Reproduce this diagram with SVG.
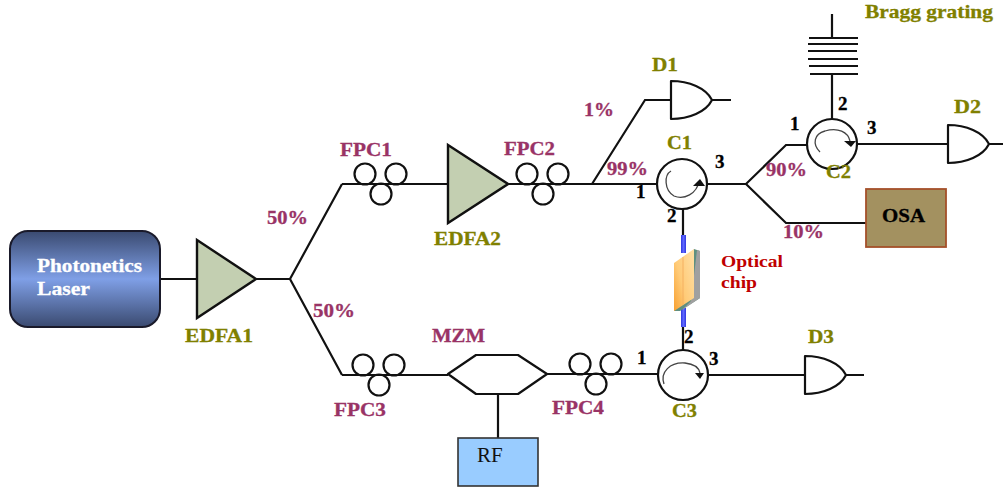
<svg xmlns="http://www.w3.org/2000/svg" width="1003" height="487" viewBox="0 0 1003 487">
<style>
text{font-family:"Liberation Serif","Times New Roman",serif;font-weight:bold;font-size:19px;stroke-width:.3px}
.p{fill:#993366;stroke:#993366}.o{fill:#808000;stroke:#808000}.k{fill:#000;stroke:#000}.w{fill:#fff;stroke:#fff}.r{fill:#C00000;font-size:16px}
.l{fill:none;stroke:#111;stroke-width:2.2}
.s{fill:#fff;stroke:#111;stroke-width:2.2;stroke-linejoin:round}
.c{fill:none;stroke:#111;stroke-width:2.2}
.amp{fill:#C3CFB1;stroke:#111;stroke-width:2.4}
.arc{fill:none;stroke:#444;stroke-width:1.3}
.head{fill:#111}
</style>
<defs>
<linearGradient id="lg" x1="0" y1="0" x2="0" y2="1"><stop offset="0" stop-color="#3A4A70"/><stop offset="0.5" stop-color="#7F9FE6"/><stop offset="1" stop-color="#3A4A70"/></linearGradient>
<linearGradient id="chipv" x1="0" y1="1" x2="1" y2="0.2"><stop offset="0" stop-color="#F8A030"/><stop offset="0.45" stop-color="#FFCB78"/><stop offset="1" stop-color="#FFDDA0"/></linearGradient>
<linearGradient id="blue" x1="0" y1="0" x2="1" y2="0"><stop offset="0" stop-color="#2F38E0"/><stop offset="0.5" stop-color="#6068FF"/><stop offset="1" stop-color="#2F38E0"/></linearGradient>
<g id="fpc"><circle class="c" cx="-15" cy="-10" r="10.5"/><circle class="c" cx="16" cy="-10" r="10.5"/><circle class="c" cx="1" cy="10" r="10.5"/></g>
<path id="det" d="M0 -19C18 -19 35 -12 41 0C35 12 18 19 0 19Z" class="s"/>
</defs>
<g id="connectors">
<path class="l" d="M160 279H197M256 279H290M342 184L290 279L342 375M342 184H448M508 184H657"/>
<path class="l" d="M592 184L645 100H672M707 184H746L786 145H807M746 184L786 223H866M857 144H948"/>
<path class="l" d="M832 14V38M832 74V119M683 209V235M683 327V351"/>
<path class="l" d="M342 375H448M547 374H658M708 375H805M498 394V438M712 100H731M989 144H1003M845 375H864"/>
</g>
<g id="laser"><rect x="10" y="231" width="150" height="96" rx="18" fill="url(#lg)" stroke="#1a1a2a" stroke-width="2"/>
<text class="w" x="37" y="272" textLength="105" lengthAdjust="spacingAndGlyphs">Photonetics</text><text class="w" x="37" y="295" textLength="53" lengthAdjust="spacingAndGlyphs">Laser</text></g>
<g id="edfa1"><path class="amp" d="M197 240L256 279L197 318Z"/><text class="o" x="185" y="342" textLength="68" lengthAdjust="spacingAndGlyphs">EDFA1</text></g>
<g id="edfa2"><path class="amp" d="M448 145L508 184L448 223Z"/><text class="o" x="434" y="245" textLength="67" lengthAdjust="spacingAndGlyphs">EDFA2</text></g>
<g id="fpc1"><use href="#fpc" x="380" y="184"/><text class="p" x="340" y="156" textLength="52" lengthAdjust="spacingAndGlyphs">FPC1</text></g>
<g id="fpc2"><use href="#fpc" x="542" y="184"/><text class="p" x="504" y="155" textLength="51" lengthAdjust="spacingAndGlyphs">FPC2</text></g>
<g id="fpc3"><use href="#fpc" x="378" y="375"/><text class="p" x="334" y="416" textLength="52" lengthAdjust="spacingAndGlyphs">FPC3</text></g>
<g id="fpc4"><use href="#fpc" x="595" y="374"/><text class="p" x="552" y="414" textLength="52" lengthAdjust="spacingAndGlyphs">FPC4</text></g>
<g id="mzm"><path class="s" d="M448 374L476 355H518L547 374L518 394H476Z"/><text class="p" x="432" y="342" textLength="53" lengthAdjust="spacingAndGlyphs">MZM</text></g>
<g id="rf"><rect x="458" y="438" width="80" height="48" fill="#99CCFF" stroke="#333" stroke-width="1.6"/><text x="477" y="462" style="font-weight:normal;font-size:21px;stroke:none" fill="#111">RF</text></g>
<g id="c1"><circle class="s" cx="682" cy="184" r="25"/><path class="arc" d="M671 171C664 175 664 190 674 196C684 200 697 194 699 181"/><path class="head" d="M693 186L700 179L705 186Z"/><text class="o" x="667" y="149" textLength="25" lengthAdjust="spacingAndGlyphs">C1</text><text class="k" x="636" y="198">1</text><text class="k" x="667" y="222">2</text><text class="k" x="715" y="168">3</text></g>
<g id="c2"><circle class="s" cx="832" cy="144" r="25"/><path class="arc" d="M820 152C812 144 814 134 825 131C838 127 848 132 850 141"/><path class="head" d="M844 141H856L851 147Z"/><text class="o" x="826" y="178" textLength="25" lengthAdjust="spacingAndGlyphs">C2</text><text class="k" x="790" y="130">1</text><text class="k" x="838" y="110">2</text><text class="k" x="867" y="134">3</text></g>
<g id="c3"><circle class="s" cx="683" cy="375" r="25"/><path class="arc" d="M664 384C660 372 670 362 685 363C694 364 699 368 700 373"/><path class="head" d="M695 373H704L700 379Z"/><text class="o" x="672" y="417" textLength="25" lengthAdjust="spacingAndGlyphs">C3</text><text class="k" x="637" y="364">1</text><text class="k" x="684" y="343">2</text><text class="k" x="709" y="365">3</text></g>
<g id="d1"><use href="#det" x="671" y="100"/><text class="o" x="652" y="71" textLength="26" lengthAdjust="spacingAndGlyphs">D1</text></g>
<g id="d2"><use href="#det" x="948" y="144"/><text class="o" x="954" y="113" textLength="27" lengthAdjust="spacingAndGlyphs">D2</text></g>
<g id="d3"><use href="#det" x="805" y="375"/><text class="o" x="808" y="343" textLength="26" lengthAdjust="spacingAndGlyphs">D3</text></g>
<g id="osa"><rect x="866" y="189" width="80" height="58" fill="#A39160" stroke="#A5502A" stroke-width="1.8"/><text class="k" x="882" y="222" textLength="43" lengthAdjust="spacingAndGlyphs">OSA</text></g>
<g id="bragg"><path class="l" d="M809 38H858M808 44H858M808 51H857M808 59H858M809 66H858M810 74H858"/><text class="o" x="865" y="18" textLength="128" lengthAdjust="spacingAndGlyphs">Bragg grating</text></g>
<g id="chip">
<rect x="681" y="235" width="5" height="18" fill="url(#blue)"/><rect x="681" y="308" width="5" height="19" fill="url(#blue)"/>
<path d="M694 249L700 251V298L680 311H674Z" fill="#5F8F80"/><path d="M697 250L700 251V298L682 310L691 301Z" fill="#A0A0A0"/>
<path d="M674 263L694 249V298L674 311Z" fill="url(#chipv)"/><path d="M683 257V305" stroke="#F5B060" stroke-width="1"/>
<text class="r" x="721" y="267" textLength="62" lengthAdjust="spacingAndGlyphs">Optical</text><text class="r" x="721" y="288" textLength="36" lengthAdjust="spacingAndGlyphs">chip</text></g>
<g id="pct">
<text class="p" x="267" y="224" textLength="41" lengthAdjust="spacingAndGlyphs">50%</text>
<text class="p" x="313" y="317" textLength="42" lengthAdjust="spacingAndGlyphs">50%</text>
<text class="p" x="584" y="116" textLength="30" lengthAdjust="spacingAndGlyphs">1%</text>
<text class="p" x="607" y="175" textLength="41" lengthAdjust="spacingAndGlyphs">99%</text>
<text class="p" x="766" y="176" textLength="41" lengthAdjust="spacingAndGlyphs">90%</text>
<text class="p" x="783" y="238" textLength="41" lengthAdjust="spacingAndGlyphs">10%</text>
</g>
</svg>
